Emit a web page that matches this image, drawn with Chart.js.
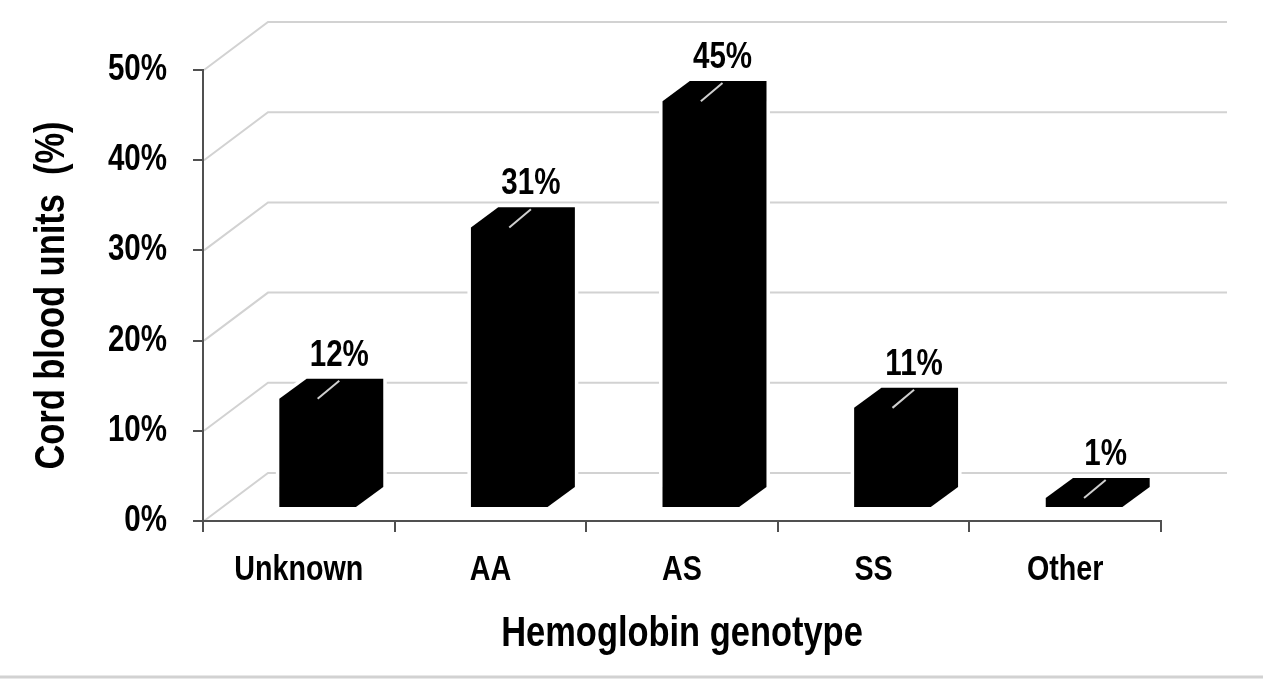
<!DOCTYPE html>
<html>
<head>
<meta charset="utf-8">
<title>Cord blood units by hemoglobin genotype</title>
<script src="https://cdn.jsdelivr.net/npm/chart.js@4.4.1/dist/chart.umd.min.js"></script>
<style>
  html, body { margin: 0; padding: 0; background: #fff; }
  #wrap { width: 1280px; height: 685px; position: relative; }
</style>
</head>
<body>
<div id="wrap"><canvas id="chart"></canvas></div>
<script>
// Data
const genotypes = ["Unknown", "AA", "AS", "SS", "Other"];
const cordBloodPct = [12, 31, 45, 11, 1];
const yTickStep = 10;
const yMax = 50;

const FONT = '"Liberation Sans Narrow", "Arial Narrow", "Liberation Sans", Arial, sans-serif';
const AXIS_COLOR = "#505050";
const GRID_COLOR = "#d2d2d2";
const NARROW = 0.82; // no narrow face installed, so squeeze text horizontally

// 3D look (Excel style): floor depth and bar depth
const DEPTH_X = 65, DEPTH_Y = 48;
const BAR_FRONT = 0.29, BAR_BACK = 0.71;
const BAR_WIDTH = 0.4;

// Condensed text: every fillText is squeezed around its anchor point
const narrowTextPlugin = {
  id: "narrowText",
  beforeInit(chart) {
    const ctx = chart.ctx;
    const orig = ctx.fillText.bind(ctx);
    ctx.fillText = function (text, x, y, maxWidth) {
      ctx.save();
      ctx.translate(x, y);
      ctx.scale(NARROW, 1);
      orig(text, 0, 0);
      ctx.restore();
    };
  }
};

// Back wall gridlines + bottom rule
const wallPlugin = {
  id: "wall",
  beforeDraw(chart) {
    const { ctx, chartArea, scales: { y } } = chart;
    ctx.save();
    ctx.strokeStyle = GRID_COLOR;
    ctx.lineWidth = 2;
    y.ticks.forEach(t => {
      const py = y.getPixelForValue(t.value);
      ctx.beginPath();
      ctx.moveTo(chartArea.left + 1, py);
      ctx.lineTo(chartArea.left + DEPTH_X, py - DEPTH_Y);
      ctx.lineTo(chartArea.right + 66, py - DEPTH_Y);
      ctx.stroke();
    });
    // thin rule under the figure
    ctx.lineWidth = 3;
    ctx.beginPath();
    ctx.moveTo(0, 677);
    ctx.lineTo(1263, 677);
    ctx.stroke();
    ctx.restore();
  }
};

// Bars drawn as 3D blocks, with labels and leader lines
const bar3dPlugin = {
  id: "bar3d",
  afterDatasetsDraw(chart) {
    const { ctx, scales: { x, y } } = chart;
    const catW = x.getPixelForValue(1) - x.getPixelForValue(0);
    const hw = catW * BAR_WIDTH / 2;
    const d = (BAR_BACK - BAR_FRONT) * DEPTH_X;
    const e = (BAR_BACK - BAR_FRONT) * DEPTH_Y;
    ctx.save();
    cordBloodPct.forEach((v, i) => {
      const cx = x.getPixelForValue(i);
      const fl = cx - hw + BAR_FRONT * DEPTH_X;
      const fr = cx + hw + BAR_FRONT * DEPTH_X;
      const fb = y.getPixelForValue(0) - BAR_FRONT * DEPTH_Y;
      const ft = y.getPixelForValue(v) - BAR_FRONT * DEPTH_Y;
      ctx.beginPath();
      ctx.moveTo(fl, fb);
      ctx.lineTo(fl, ft);
      ctx.lineTo(fl + d, ft - e);
      ctx.lineTo(fr + d, ft - e);
      ctx.lineTo(fr + d, fb - e);
      ctx.lineTo(fr, fb);
      ctx.closePath();
      ctx.lineJoin = "miter";
      ctx.strokeStyle = "#fff";
      ctx.lineWidth = 7;
      ctx.stroke();
      ctx.fillStyle = "#000";
      ctx.fill();

      // leader line + data label
      const labelX = cx + 0.5 * DEPTH_X + 8;
      const backTop = ft - e;
      ctx.strokeStyle = "#cfcfcf";
      ctx.lineWidth = 2;
      ctx.beginPath();
      ctx.moveTo((fl + fr) / 2, ft);
      ctx.lineTo(labelX, backTop + 2);
      ctx.stroke();

      ctx.fillStyle = "#000";
      ctx.font = "bold 36px " + FONT;
      ctx.textAlign = "center";
      ctx.textBaseline = "alphabetic";
      ctx.fillText(v + "%", labelX, backTop - 13);
    });
    ctx.restore();
  }
};

new Chart(document.getElementById("chart"), {
  type: "bar",
  data: {
    labels: genotypes,
    datasets: [{
      label: "Cord blood units (%)",
      data: cordBloodPct,
      backgroundColor: "rgba(0,0,0,0)",
      borderWidth: 0
    }]
  },
  options: {
    responsive: true,
    maintainAspectRatio: false,
    animation: false,
    layout: { padding: { top: 70, right: 119, left: 0, bottom: 0 } },
    plugins: { legend: { display: false }, tooltip: { enabled: false } },
    scales: {
      x: {
        afterFit(scale) { scale.height = 164; },
        grid: {
          offset: true,
          drawOnChartArea: false,
          drawTicks: true,
          tickLength: 11,
          color: AXIS_COLOR,
          lineWidth: 2
        },
        border: { display: true, color: AXIS_COLOR, width: 2 },
        ticks: {
          color: "#000",
          padding: 17,
          maxRotation: 0,
          autoSkip: false,
          font: { family: FONT, size: 35, weight: "bold" }
        },
        title: {
          display: true,
          text: "Hemoglobin genotype",
          color: "#000",
          padding: { top: 0, bottom: 25 },
          font: { family: FONT, size: 42, weight: "bold" }
        }
      },
      y: {
        min: 0,
        max: yMax,
        afterFit(scale) { scale.width = 203; },
        grid: {
          drawOnChartArea: false,
          drawTicks: true,
          tickLength: 10,
          color: AXIS_COLOR,
          lineWidth: 2
        },
        border: { display: true, color: AXIS_COLOR, width: 2 },
        ticks: {
          stepSize: yTickStep,
          color: "#000",
          padding: 26,
          font: { family: FONT, size: 36, weight: "bold" },
          callback: v => v + "%"
        },
        title: {
          display: true,
          text: "Cord blood units  (%)",
          color: "#000",
          padding: { top: 27, bottom: 0 },
          font: { family: FONT, size: 42, weight: "bold" }
        }
      }
    }
  },
  plugins: [narrowTextPlugin, wallPlugin, bar3dPlugin]
});
</script>
</body>
</html>
